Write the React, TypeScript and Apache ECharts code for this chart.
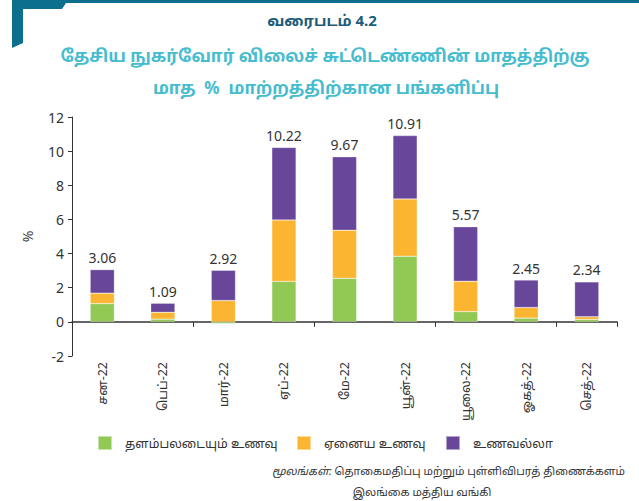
import React, { useEffect, useRef } from "react";
import * as echarts from "echarts";

const categories = ["சன-22", "பெப்-22", "மார்-22", "ஏப்-22", "மே-22", "யூன்-22", "யூலை-22", "ஓகத்-22", "செத்-22"];
const volatileFood = [1.07, 0.16, -0.1, 2.37, 2.55, 3.85, 0.6, 0.22, 0.14];
const otherFood = [0.61, 0.4, 1.25, 3.6, 2.82, 3.35, 1.78, 0.62, 0.16];
const nonFood = [1.38, 0.53, 1.77, 4.25, 4.3, 3.71, 3.19, 1.61, 2.04];
const totals = ["3.06", "1.09", "2.92", "10.22", "9.67", "10.91", "5.57", "2.45", "2.34"];
const seriesNames = ["தளம்பலடையும் உணவு", "ஏனைய உணவு", "உணவல்லா"];
const yTicks = { min: -2, max: 12, interval: 2 };

const FONT = "'Noto Sans', 'Noto Sans Tamil', 'Lohit Tamil', sans-serif";
const COLORS = ["#92c955", "#fbb531", "#68479b"];

export default function App() {
  const ref = useRef<HTMLDivElement>(null);
  useEffect(() => {
    if (!ref.current) return;
    const chart = echarts.init(ref.current, null, { renderer: "svg" });
    const barCommon = {
      type: "bar",
      stack: "total",
      barWidth: "40%",
      xAxisIndex: 0,
      yAxisIndex: 0,
      itemStyle: { borderColor: "rgba(255,255,255,0.5)", borderWidth: 0.5 },
    };
    const legendBase = {
      icon: "rect",
      itemWidth: 14,
      itemHeight: 14,
      top: 435,
      padding: 0,
      textStyle: { fontFamily: FONT, fontSize: 12.5, color: "#333", padding: [0, 0, 0, 8] },
      itemGap: 10,
      selectedMode: false,
    };
    chart.setOption({
      animation: false,
      textStyle: { fontFamily: FONT },
      grid: { left: 72, right: 22, top: 117, bottom: 145, containLabel: false },
      legend: [
        { ...legendBase, left: 97, data: [seriesNames[0]] },
        { ...legendBase, left: 296, data: [seriesNames[1]] },
        { ...legendBase, left: 445, data: [seriesNames[2]] },
      ],
      xAxis: [
        {
          type: "category",
          data: categories,
          axisLine: { onZero: true, lineStyle: { color: "#333", width: 1.5 } },
          axisTick: { show: true, length: 5, lineStyle: { color: "#333" } },
          axisLabel: { show: false },
        },
        {
          type: "category",
          data: categories,
          position: "bottom",
          axisLine: { show: false, onZero: false },
          axisTick: { show: false },
          axisLabel: {
            rotate: 90,
            fontSize: 12.5,
            color: "#333",
            margin: 6,
            fontFamily: FONT,
          },
        },
      ],
      yAxis: {
        type: "value",
        min: yTicks.min,
        max: yTicks.max,
        interval: yTicks.interval,
        splitLine: { show: false },
        axisLine: { show: true, lineStyle: { color: "#333", width: 1 } },
        axisTick: { show: true, length: 4, lineStyle: { color: "#333" } },
        axisLabel: { fontSize: 14, color: "#333", margin: 8, fontFamily: FONT },
        name: "%",
        nameLocation: "middle",
        nameGap: 38,
        nameTextStyle: { fontSize: 14, color: "#333", fontFamily: FONT },
      },
      series: [
        { ...barCommon, name: seriesNames[0], data: volatileFood, itemStyle: { ...barCommon.itemStyle, color: COLORS[0] } },
        { ...barCommon, name: seriesNames[1], data: otherFood, itemStyle: { ...barCommon.itemStyle, color: COLORS[1] } },
        {
          ...barCommon,
          name: seriesNames[2],
          data: nonFood,
          itemStyle: { ...barCommon.itemStyle, color: COLORS[2] },
          label: {
            show: true,
            position: "top",
            distance: 5,
            fontSize: 14,
            color: "#333",
            fontFamily: FONT,
            formatter: (p: any) => totals[p.dataIndex],
          },
        },
      ],
      graphic: [
        {
          type: "polygon",
          shape: {
            points: [[12, 0], [639, 0], [639, 3], [66, 3], [62, 9], [23, 9], [23, 43], [12, 48]],
          },
          style: { fill: "#0c6f8e" },
        },
        {
          type: "text",
          x: 322,
          y: 20,
          style: {
            text: "வரைபடம் 4.2",
            fontSize: 15,
            fontWeight: "bold",
            fill: "#1b5d78",
            align: "center",
            verticalAlign: "middle",
            fontFamily: FONT,
          },
        },
        {
          type: "text",
          x: 325,
          y: 55,
          style: {
            text: "தேசிய நுகர்வோர் விலைச் சுட்டெண்ணின் மாதத்திற்கு",
            fontSize: 17,
            fontWeight: "bold",
            fill: "#45bccf",
            align: "center",
            verticalAlign: "middle",
            fontFamily: FONT,
          },
        },
        {
          type: "text",
          x: 326,
          y: 87,
          style: {
            text: "மாத  %  மாற்றத்திற்கான பங்களிப்பு",
            fontSize: 17,
            fontWeight: "bold",
            fill: "#45bccf",
            align: "center",
            verticalAlign: "middle",
            fontFamily: FONT,
          },
        },
        {
          type: "text",
          x: 625,
          y: 470,
          style: {
            text: "{i|மூலங்கள்:} தொகைமதிப்பு மற்றும் புள்ளிவிபரத் திணைக்களம்",
            rich: {
              i: { fontStyle: "italic", fontSize: 11, fill: "#333", fontFamily: FONT },
            },
            fontSize: 11,
            fill: "#333",
            align: "right",
            verticalAlign: "middle",
            fontFamily: FONT,
          },
        },
        {
          type: "text",
          x: 422,
          y: 491,
          style: {
            text: "இலங்கை மத்திய வங்கி",
            fontSize: 11,
            fill: "#333",
            align: "center",
            verticalAlign: "middle",
            fontFamily: FONT,
          },
        },
      ],
    });
    return () => chart.dispose();
  }, []);
  return <div ref={ref} style={{ width: 639, height: 501, position: "absolute", left: 0, top: 0 }} />;
}
